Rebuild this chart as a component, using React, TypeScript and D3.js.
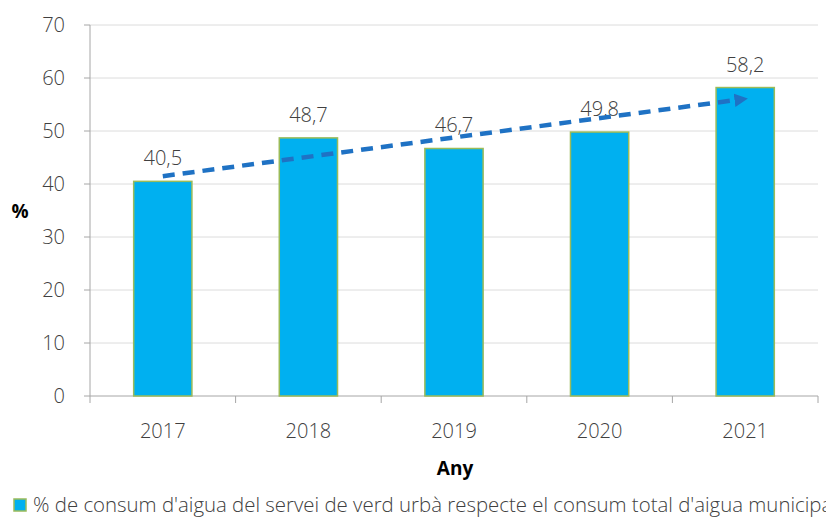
import React from "react";
import * as d3 from "d3";

const years = ["2017", "2018", "2019", "2020", "2021"];
const values = [40.5, 48.7, 46.7, 49.8, 58.2];
const labels = ["40,5", "48,7", "46,7", "49,8", "58,2"];
const yTicks = [0, 10, 20, 30, 40, 50, 60, 70];
const legendText = "% de consum d'aigua del servei de verd urbà respecte el consum total d'aigua municipal";

const W = 826;
const H = 520;
const M = { left: 90, right: 8, top: 25, bottom: 124 };
const FONT = "'Open Sans', 'Segoe UI', sans-serif";

export default function App() {
  const x = d3.scaleBand().domain(years).range([M.left, W - M.right]).paddingInner(0.6).paddingOuter(0.3);
  const xb = d3.scaleBand().domain(years).range([M.left, W - M.right]);
  const y = d3.scaleLinear().domain([0, 70]).range([H - M.bottom, M.top]);

  // linear trend
  const n = values.length;
  const mx = d3.mean(values.map((_, i) => i)) as number;
  const my = d3.mean(values) as number;
  const slope = d3.sum(values.map((v, i) => (i - mx) * (v - my))) / d3.sum(values.map((_, i) => (i - mx) ** 2));
  const icpt = my - slope * mx;
  const cx = (i: number) => (xb(years[i]) as number) + xb.bandwidth() / 2;
  const x1 = cx(0), y1 = y(icpt), x2 = cx(n - 1) - 8, y2 = y(icpt + slope * (n - 1 - 0.055));
  const ticksX = years.map((yr) => xb(yr) as number).concat([W - M.right]);

  return (
    <svg width={W} height={H} style={{ position: "absolute", left: 0, top: 0, background: "#fff" }}>
      <defs>
        <marker id="arr" viewBox="0 0 10 10" refX="2" refY="5" markerWidth="3" markerHeight="3" orient="auto" markerUnits="strokeWidth">
          <path d="M0,0 L10,5 L0,10 z" fill="#1f72c4" />
        </marker>
      </defs>
      {yTicks.filter((t) => t > 0).map((t) => (
        <line key={t} x1={M.left} x2={W - M.right} y1={y(t)} y2={y(t)} stroke="#dcdcdc" strokeWidth={1} />
      ))}
      {yTicks.map((t) => (
        <g key={"t" + t}>
          <line x1={M.left - 6} x2={M.left} y1={y(t)} y2={y(t)} stroke="#a6a6a6" />
          <text x={M.left - 25} y={y(t)} dy="0.36em" textAnchor="end" fontFamily={FONT} fontWeight={300} fontSize={20} fill="#404040">{t}</text>
        </g>
      ))}
      <line x1={M.left} x2={M.left} y1={M.top} y2={y(0)} stroke="#a6a6a6" />
      <line x1={M.left} x2={W - M.right} y1={y(0)} y2={y(0)} stroke="#a6a6a6" />
      {ticksX.map((tx, i) => (
        <line key={"xt" + i} x1={tx} x2={tx} y1={y(0)} y2={y(0) + 7} stroke="#a6a6a6" />
      ))}
      {years.map((yr, i) => (
        <rect key={yr} x={x(yr)} y={y(values[i])} width={x.bandwidth()} height={y(0) - y(values[i])} fill="#00b0f0" stroke="#9bbb59" strokeWidth={1.5} />
      ))}
      {years.map((yr, i) => (
        <text key={"l" + yr} x={cx(i)} y={y(values[i]) - 16} textAnchor="middle" fontFamily={FONT} fontWeight={300} fontSize={20} fill="#404040">{labels[i]}</text>
      ))}
      <line x1={x1} y1={y1} x2={x2} y2={y2} stroke="#1f72c4" strokeWidth={4.5} strokeDasharray="12,8" markerEnd="url(#arr)" />
      {years.map((yr, i) => (
        <text key={"x" + yr} x={cx(i)} y={y(0) + 42} textAnchor="middle" fontFamily={FONT} fontWeight={300} fontSize={20} fill="#404040">{yr}</text>
      ))}
      <text x={455} y={475} textAnchor="middle" fontFamily={FONT} fontSize={19} fontWeight="bold" fill="#000">Any</text>
      <text x={20} y={218} textAnchor="middle" fontFamily={FONT} fontSize={19} fontWeight="bold" fill="#000">%</text>
      <rect x={14} y={499} width={12} height={12} fill="#00b0f0" stroke="#9bbb59" strokeWidth={1.5} />
      <text x={33} y={512} fontFamily={FONT} fontWeight={300} fontSize={20.4} fill="#404040">{legendText}</text>
    </svg>
  );
}
